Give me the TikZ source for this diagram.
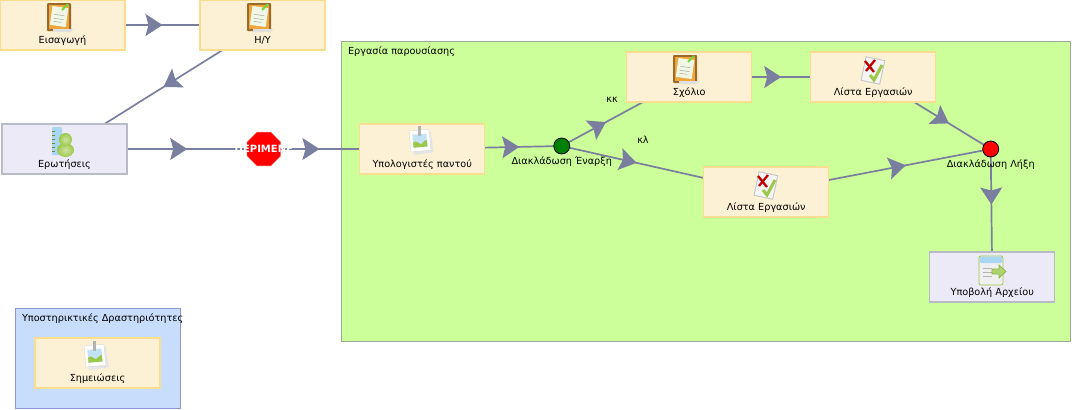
\documentclass[tikz,border=0pt]{standalone}
\usepackage{xcolor}
\usepackage{fontspec}
\setmainfont{DejaVu Sans}
\usetikzlibrary{shapes.geometric,arrows.meta,positioning,backgrounds,decorations.markings}
\definecolor{wfline}{HTML}{7A7F9F}
\definecolor{wfcream}{HTML}{FCF1D4}
\definecolor{wfcreamedge}{HTML}{FBDD8F}
\definecolor{wflav}{HTML}{ECEAF7}
\definecolor{wflavedge}{HTML}{B8BAC6}
\definecolor{wfpool}{HTML}{CCFF99}
\definecolor{wfpooledge}{HTML}{9EA89A}
\definecolor{wflane}{HTML}{C8DCFB}
\definecolor{wflaneedge}{HTML}{8C98CC}
\definecolor{wfbrown}{HTML}{9A6A2C}
\definecolor{wforange}{HTML}{EFA63C}
\definecolor{wfleaf}{HTML}{9CC84A}
\definecolor{wfsky}{HTML}{A9D6F2}
\tikzset{
    taskbox/.style={
        rectangle, draw=wfcreamedge, fill=wfcream, line width=1.2pt, outer sep=0pt,
        minimum width=125pt, minimum height=50pt,
        text height=38pt, text depth=2pt, inner sep=0pt,
        font=\fontsize{9.7}{11}\selectfont
    },
    sidebox/.style={taskbox, draw=wflavedge, fill=wflav},
    flow/.style={
        draw=wfline, line width=1.7pt, postaction={decorate},
        decoration={markings, mark=at position #1 with
            {\arrow{Stealth[length=17pt,width=22pt,inset=3pt]}}}
    },
    flow/.default=0.5,
    gate/.style={circle, draw=black, line width=0.8pt, minimum size=16pt, inner sep=0pt, outer sep=0pt},
    tinytext/.style={font=\fontsize{9.7}{11}\selectfont, inner sep=0pt, outer sep=0pt},
    noteicon/.pic={
        \fill[wfbrown, rounded corners=1pt] (-12,-14) rectangle (12,14);
        \fill[wforange] (-10,-12) rectangle (10,12);
        \fill[gray!25] (-6,12) -- (14,12) -- (12,15) -- (-6,15) -- cycle;
        \fill[white!85!wfleaf, rotate=-8] (-8,-10) rectangle (8,9);
        \draw[gray!70, line width=0.5pt, rotate=-8] (-5,-2) -- (5,-2) (-5,2) -- (5,2) (-5,5) -- (3,5);
        \draw[wfleaf!80!green, line width=2pt] (3,-7) -- (9,-13);
    },
    photoicon/.pic={
        \fill[gray!20, rotate=8] (-9,-8) rectangle (11,13);
        \fill[white, draw=gray!30, line width=0.4pt, rotate=5] (-11,-11) rectangle (9,10);
        \fill[wfsky!70, rotate=5] (-8,-7) rectangle (6,6);
        \fill[wfleaf, rotate=5] (-8,6) -- (-8,1) .. controls (-4,-2) and (-3,3) .. (0,3) .. controls (3,2) and (4,-2) .. (6,0) -- (6,6) -- cycle;
        \fill[gray!60] (-3,-15) rectangle (0,-5);
    },
    checkicon/.pic={
        \fill[gray!45, rotate=-12] (-10,-12) rectangle (10,13);
        \fill[gray!8, rotate=-12] (-9,-11) rectangle (9,12);
        \draw[red!75!black, line width=2.3pt] (-8,-9) -- (1,2) (2,-10) -- (-7,1);
        \draw[wfleaf, line width=3pt] (-3,5) -- (1,10) -- (9,-5);
    },
    usericon/.pic={
        \fill[wfsky, rounded corners=1pt] (-11,-14) rectangle (-1,14);
        \foreach \tickpos in {-10,-6,...,10} {
            \draw[wfleaf!70!black, line width=0.5pt] (-11,\tickpos) -- (-8,\tickpos);
        }
        \shade[inner color=wfleaf!50, outer color=wfleaf] (2.5,9) ellipse (8.5 and 7);
        \shade[inner color=wfleaf!50, outer color=wfleaf] (2.5,-1.5) circle (6.5);
    },
    uploadicon/.pic={
        \fill[gray!12, draw=wfleaf, line width=0.8pt, rounded corners=2pt] (-12,-14) rectangle (12,15);
        \fill[wfsky, rounded corners=1.5pt] (-11.5,-13.5) rectangle (11.5,-7);
        \draw[gray!60, line width=0.6pt] (-8,-2) -- (1,-2) (-8,2) -- (1,2) (-8,6) -- (1,6);
        \fill[wfleaf!80, draw=wfleaf!90!black, line width=0.7pt] (1,-1) -- (8,-1) -- (8,-5) -- (15,1.5) -- (8,8) -- (8,4) -- (1,4) -- cycle;
    },
}

\begin{document}
\begin{tikzpicture}[x=1pt, y=-1pt]
    \useasboundingbox (0,0) rectangle (1072,410);

    % Tasks outside the pool
    \node[taskbox] (intro) at (62.5,25) {Εισαγωγή};
    \node[taskbox, right=75pt of intro] (pc) {Η/Υ};
    \node[sidebox] (ask) at (64.5,149) {Ερωτήσεις};

    % Stop sign
    \node[regular polygon, regular polygon sides=8, fill=red, draw=red!50!white, line width=0.4pt,
          minimum size=36.5pt, inner sep=0pt, outer sep=0pt, right=120pt of ask] (wait) {};
    \node[font=\fontsize{10}{11}\selectfont\bfseries, text=white, inner sep=0pt] (waittext) at (wait.center) {ΠΕΡΙΜΕΝΕ};

    % Pool contents
    \node[taskbox, right=79pt of wait] (anywhere) {Υπολογιστές παντού};
    \node[gate, fill=green!50!black, right=69pt of anywhere, yshift=3pt] (start) {};
    \node[taskbox, right=57pt of start, yshift=69pt] (comment) {Σχόλιο};
    \node[taskbox, right=59pt of comment] (tasksa) {Λίστα Εργασιών};
    \node[taskbox, right=134pt of start, yshift=-46pt] (tasksb) {Λίστα Εργασιών};
    \node[gate, fill=red, right=154pt of tasksb, yshift=43pt] (finish) {};
    \node[sidebox, below=95pt of finish, xshift=1.5pt] (upload) {Υποβολή Αρχείου};

    % Support lane
    \node[taskbox] (notes) at (97.5,363) {Σημειώσεις};

    % Gate labels
    \node[tinytext, below=3pt of start] (startname) {Διακλάδωση Έναρξη};
    \node[tinytext, below=3pt of finish] (finishname) {Διακλάδωση Λήξη};
    \node[tinytext] (kk) at (612,99.5) {κκ};
    \node[tinytext] (kl) at (643,140) {κλ};

    % Icons
    \pic at (59,17) {noteicon};
    \pic at (259,17) {noteicon};
    \pic at (685,69) {noteicon};
    \pic at (63,141) {usericon};
    \pic at (421,141) {photoicon};
    \pic at (96,356) {photoicon};
    \pic at (873,70) {checkicon};
    \pic at (766,185) {checkicon};
    \pic at (991,270) {uploadicon};

    % Pool, lane and flows
    \begin{scope}[on background layer]
        \node[draw=wfpooledge, fill=wfpool, line width=0.8pt, minimum width=729pt, minimum height=300pt,
              inner sep=0pt, outer sep=0pt] (pool) at (705.5,191) {};
        \node[draw=wflaneedge, fill=wflane, line width=0.8pt, minimum width=165pt, minimum height=100pt,
              inner sep=0pt, outer sep=0pt] (lane) at (97.5,358) {};

        \draw[flow] (intro) -- (pc);
        \draw[flow] (pc) -- (ask);
        \draw[flow=0.44] (ask) -- (wait.center);
        \draw[flow=0.58] (wait.center) -- (anywhere);
        \draw[flow] (anywhere) -- (start);
        \draw[flow] (start) -- (comment);
        \draw[flow] (start) -- (tasksb);
        \draw[flow] (comment) -- (tasksa);
        \draw[flow] (tasksa) -- (finish);
        \draw[flow] (tasksb) -- (finish);
        \draw[flow] (finish) -- (upload);
    \end{scope}

    % Lane titles
    \node[tinytext, anchor=west] (pooltitle) at (348,52) {Εργασία παρουσίασης};
    \node[tinytext, anchor=west] (lanetitle) at (22,319) {Υποστηρικτικές Δραστηριότητες};

\end{tikzpicture}
\end{document}
